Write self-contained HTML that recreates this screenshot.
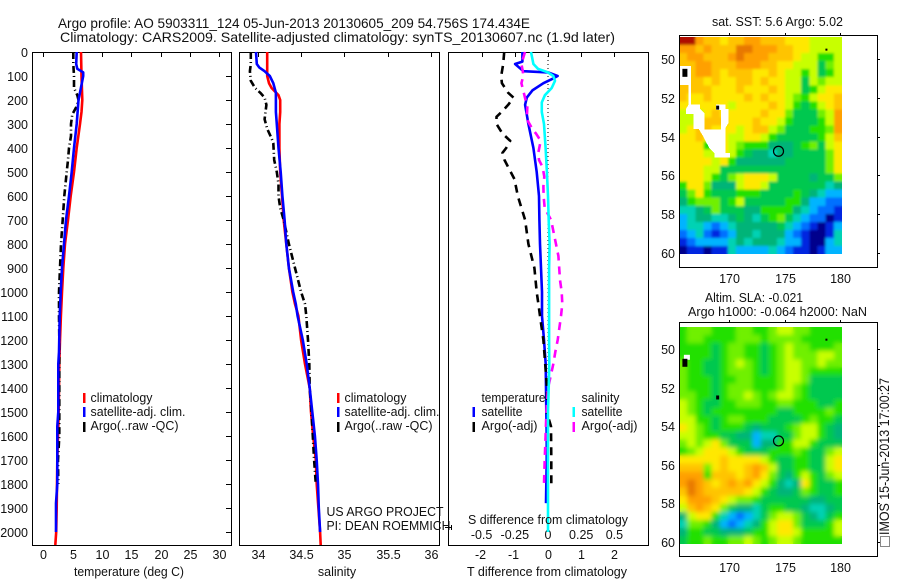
<!DOCTYPE html>
<html>
<head>
<meta charset="utf-8">
<title>Argo profile</title>
<style>
html,body{margin:0;padding:0;background:#fff;}
svg{display:block;}
text{font-family:"Liberation Sans",sans-serif;font-size:12.5px;fill:#111;}
.t{font-size:14px;}
</style>
</head>
<body>
<svg id="fig" width="900" height="580" viewBox="0 0 900 580" xmlns="http://www.w3.org/2000/svg">
<defs>
<filter id="soft1" x="-5%" y="-5%" width="110%" height="110%"><feGaussianBlur in="SourceGraphic" stdDeviation="1.3" result="b"/><feMerge><feMergeNode in="SourceGraphic"/><feMergeNode in="b"/></feMerge></filter>
<filter id="soft2" x="-5%" y="-5%" width="110%" height="110%"><feGaussianBlur in="SourceGraphic" stdDeviation="2.4" result="b"/><feMerge><feMergeNode in="SourceGraphic"/><feMergeNode in="b"/></feMerge></filter>
<clipPath id="clip1"><rect x="679" y="37" width="163" height="217"/></clipPath>
<clipPath id="clip2"><rect x="679" y="327" width="163" height="217"/></clipPath>
</defs>
<rect x="0" y="0" width="900" height="580" fill="#fff"/>
<g id="layer"></g>
<g id="labels">
<text class="t" x="58" y="28" textLength="472" lengthAdjust="spacingAndGlyphs">Argo profile: AO 5903311_124 05-Jun-2013 20130605_209 54.756S 174.434E</text>
<text class="t" x="60" y="42" textLength="555" lengthAdjust="spacingAndGlyphs">Climatology: CARS2009. Satellite-adjusted climatology: synTS_20130607.nc (1.9d later)</text>

<text x="129" y="576" text-anchor="middle" textLength="110" lengthAdjust="spacingAndGlyphs">temperature (deg C)</text>
<text x="337" y="576" text-anchor="middle">salinity</text>
<text x="547" y="576" text-anchor="middle" textLength="160" lengthAdjust="spacingAndGlyphs">T difference from climatology</text>
<text x="548" y="524" text-anchor="middle" textLength="160" lengthAdjust="spacingAndGlyphs">S difference from climatology</text>

<rect x="83" y="393" width="2.5" height="10" fill="#f00"/>
<rect x="83" y="407" width="2.5" height="10" fill="#00f"/>
<rect x="83" y="422" width="2.5" height="10" fill="#000"/>
<text x="90.5" y="402" textLength="62" lengthAdjust="spacingAndGlyphs">climatology</text>
<text x="90.5" y="416" textLength="95" lengthAdjust="spacingAndGlyphs">satellite-adj. clim.</text>
<text x="90.5" y="430" textLength="88" lengthAdjust="spacingAndGlyphs">Argo(..raw -QC)</text>

<rect x="337" y="393" width="2.5" height="10" fill="#f00"/>
<rect x="337" y="407" width="2.5" height="10" fill="#00f"/>
<rect x="337" y="422" width="2.5" height="10" fill="#000"/>
<text x="344.5" y="402" textLength="62" lengthAdjust="spacingAndGlyphs">climatology</text>
<text x="344.5" y="416" textLength="95" lengthAdjust="spacingAndGlyphs">satellite-adj. clim.</text>
<text x="344.5" y="430" textLength="88" lengthAdjust="spacingAndGlyphs">Argo(..raw -QC)</text>

<text x="481.5" y="402" textLength="64" lengthAdjust="spacingAndGlyphs">temperature</text>
<text x="581.5" y="402" textLength="38" lengthAdjust="spacingAndGlyphs">salinity</text>
<rect x="472.5" y="407" width="2.5" height="10" fill="#00f"/>
<rect x="472.5" y="422" width="2.5" height="10" fill="#000"/>
<rect x="572.5" y="407" width="2.5" height="10" fill="#0ff"/>
<rect x="572.5" y="422" width="2.5" height="10" fill="#f0f"/>
<text x="481.5" y="416" textLength="41" lengthAdjust="spacingAndGlyphs">satellite</text>
<text x="481.5" y="430" textLength="56" lengthAdjust="spacingAndGlyphs">Argo(-adj)</text>
<text x="581.5" y="416" textLength="41" lengthAdjust="spacingAndGlyphs">satellite</text>
<text x="581.5" y="430" textLength="56" lengthAdjust="spacingAndGlyphs">Argo(-adj)</text>

<text x="326.5" y="516" textLength="117" lengthAdjust="spacingAndGlyphs">US ARGO PROJECT</text>
<text x="326.5" y="530" textLength="124" lengthAdjust="spacingAndGlyphs">PI: DEAN ROEMMICH</text>

<text x="777.5" y="26" text-anchor="middle" textLength="131" lengthAdjust="spacingAndGlyphs">sat. SST: 5.6  Argo: 5.02</text>
<text x="754" y="302" text-anchor="middle" textLength="98" lengthAdjust="spacingAndGlyphs">Altim. SLA: -0.021</text>
<text x="777.5" y="316" text-anchor="middle" textLength="179" lengthAdjust="spacingAndGlyphs">Argo h1000: -0.064  h2000: NaN</text>

<text style="font-size:13.5px" transform="translate(889,535) rotate(-90)" textLength="157" lengthAdjust="spacingAndGlyphs">IMOS 15-Jun-2013 17:00:27</text>
<rect x="880.5" y="536.5" width="9" height="10" fill="none" stroke="#111" stroke-width="1" stroke-dasharray="1 1"/>
<path d="M445 527.5H451M451.5 525V530" stroke="#000" stroke-width="1" fill="none"/>
</g>
</svg>
<script>
// ---- axis tick values ----
var depthTicks = [0,100,200,300,400,500,600,700,800,900,1000,1100,1200,1300,1400,1500,1600,1700,1800,1900,2000];
var tempTicks = [0,5,10,15,20,25,30];
var salTicks = [34,34.5,35,35.5,36];
var salTickLabels = ['34','34.5','35','35.5','36'];
var tDiffTicks = [-2,-1,0,1,2];
var tDiffTickLabels = ['-2','-1','0','1','2'];
var sDiffTicks = [-0.5,-0.25,0,0.25,0.5];
var sDiffTickLabels = ['-0.5','-0.25','0','0.25','0.5'];
var lonTicks = [170,175,180];
var latTicks = [50,52,54,56,58,60];

// ---- temperature panel ----
var climTempDepth = [0,100,200,250,300,400,500,600,700,800,900,1000,1100,1200,1300,1500,1700,1900,2000,2054];
var climTemp = [6.42,6.5,6.65,6.5,6.25,5.69,5.23,4.67,4.2,3.7,3.4,3.19,3.0,2.85,2.73,2.62,2.39,2.28,2.2,2.05];
var satTempDepth = [0,50,70,85,100,150,200,300,400,500,600,700,800,900,1000,1100,1250,1300,1500,1560,1800,1880,2000];
var satTemp = [5.69,5.6,5.8,6.8,6.8,6.4,6.0,5.69,5.23,4.83,4.38,3.87,3.53,3.19,2.96,2.79,2.67,2.56,2.56,2.39,2.39,2.16,2.16];
var argoTempDepth = [0,50,100,150,180,200,230,260,300,350,400,450,500,600,700,800,900,1000,1100,1200,1500,1600,1700,1800];
var argoTemp = [5.11,5.11,5.23,5.23,5.8,6.0,5.6,4.94,4.72,4.72,4.38,4.2,3.98,3.58,3.3,3.02,2.85,2.67,2.67,2.73,2.73,2.73,2.5,2.56];

// ---- salinity panel ----
var climSalDepth = [0,100,130,150,180,200,250,300,400,500,600,700,800,900,1000,1050,1100,1200,1300,1400,1500,1600,1700,1800,1900,2000,2054];
var climSal = [34.11,34.11,34.13,34.16,34.24,34.26,34.26,34.25,34.25,34.26,34.28,34.30,34.33,34.36,34.40,34.43,34.47,34.50,34.545,34.6,34.615,34.64,34.67,34.68,34.70,34.72,34.727];
var satSalDepth = [0,50,65,80,100,130,170,200,250,300,400,500,600,700,800,900,1000,1050,1100,1200,1300,1400,1500,1600,1700,1800,1900,2000];
var satSal = [33.98,33.99,34.02,34.08,34.14,34.18,34.21,34.21,34.21,34.22,34.24,34.265,34.285,34.31,34.33,34.36,34.41,34.44,34.46,34.52,34.565,34.60,34.63,34.66,34.68,34.695,34.705,34.72];
var argoSalDepth = [0,50,80,120,150,170,190,220,280,320,360,380,450,500,550,600,650,700,800,900,1000,1050,1100,1200,1300,1400,1500,1600,1700,1800];
var argoSal = [33.92,33.92,33.91,33.92,33.97,34.03,34.08,34.10,34.08,34.11,34.16,34.18,34.19,34.22,34.24,34.24,34.26,34.30,34.36,34.43,34.50,34.545,34.56,34.58,34.595,34.6,34.62,34.635,34.65,34.67];

// ---- difference panel ----
var satTDiffDepth = [0,40,50,80,85,100,110,130,160,190,220,300,400,500,600,700,800,900,1000,1100,1200,1300,1400,1500,1600,1700,1800,1880];
var satTDiff = [-0.77,-0.77,-0.99,-0.74,0,0.29,0.16,-0.14,-0.47,-0.64,-0.69,-0.59,-0.44,-0.34,-0.27,-0.26,-0.24,-0.21,-0.18,-0.18,-0.12,-0.07,-0.06,-0.05,-0.04,-0.04,-0.05,-0.06];
var argoTDiffDepth = [0,50,100,130,170,190,220,250,270,300,340,370,400,420,450,480,530,600,700,800,900,1000,1050,1100,1200,1250,1400,1500,1560,1700,1800];
var argoTDiff = [-1.32,-1.35,-1.41,-1.39,-1.2,-1.04,-1.2,-1.4,-1.55,-1.55,-1.37,-1.14,-1.26,-1.37,-1.31,-1.2,-1.01,-0.91,-0.69,-0.59,-0.41,-0.34,-0.29,-0.24,-0.14,-0.11,-0.03,-0.04,0.09,0.1,0.1];
var satSDiffDepth = [0,50,70,85,100,120,150,180,210,250,300,400,500,600,700,800,900,1000,1100,1200,1300,1400,1500,1600,1800,2000];
var satSDiff = [-0.128,-0.11,-0.075,0,0.04,0.053,0.028,-0.023,-0.047,-0.047,-0.03,-0.018,-0.008,0,0.005,0.012,0.008,0.008,0.008,0.008,0.01,0.005,0,0,0,0];
var argoSDiffDepth = [0,50,80,100,130,180,230,280,320,340,370,420,450,480,520,560,600,650,700,780,850,950,1000,1050,1100,1200,1250,1300,1350,1400,1500,1600,1700,1800];
var argoSDiff = [-0.173,-0.2,-0.19,-0.186,-0.2,-0.178,-0.156,-0.16,-0.118,-0.09,-0.055,-0.073,-0.068,-0.04,-0.028,-0.035,-0.033,-0.025,0.023,0.053,0.078,0.09,0.103,0.108,0.098,0.073,0.055,0.04,0.02,0,-0.012,-0.018,-0.025,-0.03];

// ---- map colour ramp (index = anomaly level) ----
var rampColors = ['#00008c','#0028e0','#0070ff','#00b4ff','#00d2b4','#00b478','#00c850','#20e000','#70f000','#c8ff00','#ffe800','#ffc400','#ffa000','#e87800','#b01000'];

// ---- SST map levels, 20 columns x 27 rows, north to south ----
var sstLevels = [
[14,14,12,11,11,10,11,11,12,12,11,11,11,10,10,10,9,9,9,9],
[12,12,11,12,11,11,11,13,13,12,12,12,11,11,10,10,9,9,9,9],
[11,12,12,11,11,11,12,13,12,12,12,11,11,11,10,9,9,7,7,9],
[11,11,12,12,11,11,11,12,12,12,11,11,10,10,9,9,9,6,8,9],
[11,11,12,12,11,10,11,11,11,10,10,11,10,9,9,7,9,6,7,9],
[11,11,11,10,11,10,10,11,11,10,11,10,10,9,9,6,9,8,9,9],
[11,11,11,11,10,10,10,11,10,10,10,11,10,9,9,6,7,9,10,10],
[11,10,10,11,10,10,10,10,11,10,11,10,10,9,8,7,9,10,10,11],
[10,10,10,10,10,10,9,10,10,10,10,11,10,9,7,6,7,9,10,11],
[9,9,9,10,11,10,10,10,10,10,11,10,10,8,6,6,6,8,9,12],
[9,9,10,11,11,11,10,10,10,11,10,10,9,7,6,6,6,7,9,12],
[9,10,11,11,10,10,10,9,10,11,11,9,8,6,6,6,7,7,8,12],
[10,10,11,10,10,10,9,9,10,10,9,7,6,6,6,6,6,7,9,11],
[10,10,10,7,10,10,9,8,7,7,7,5,5,5,6,7,8,6,9,10],
[10,10,10,9,9,10,9,7,6,5,5,4,5,5,6,6,6,6,8,10],
[10,10,10,10,9,10,7,5,5,5,5,5,5,6,6,6,6,6,8,10],
[10,10,10,9,9,6,6,6,6,6,6,6,6,6,6,6,6,6,8,10],
[10,10,10,9,7,6,8,9,10,10,10,9,6,6,6,6,5,6,6,8],
[7,10,10,8,5,5,5,9,10,10,9,6,6,6,6,6,6,6,4,5],
[6,8,10,7,6,6,6,7,7,7,6,6,6,6,7,6,5,4,3,3],
[5,7,8,8,8,6,7,9,6,6,6,6,6,7,7,5,3,3,2,2],
[4,4,5,6,8,6,6,6,5,5,7,7,7,7,5,4,3,2,2,1],
[3,4,5,5,4,4,5,6,5,4,6,7,8,6,4,3,2,2,0,1],
[3,4,4,3,2,3,4,5,5,5,5,5,6,4,3,2,1,0,1,3],
[2,3,4,2,1,2,3,5,5,4,5,5,5,3,2,1,0,0,1,4],
[1,2,3,3,3,3,4,5,4,5,5,5,4,3,3,1,0,0,3,4],
[0,1,1,0,1,1,4,3,3,3,3,4,3,2,1,1,0,1,3,3]
];

// ---- SLA map levels, 20 columns x 27 rows, north to south ----
var slaLevels = [
[7,8,8,8,7,7,7,8,8,7,7,8,9,9,8,8,7,7,7,7],
[7,8,8,7,7,7,7,8,8,8,7,8,8,8,8,7,7,7,7,7],
[7,7,7,7,6,7,8,8,7,7,6,7,8,9,8,8,7,7,7,8],
[7,7,7,7,6,7,8,8,7,7,6,7,8,9,8,8,8,9,9,8],
[8,7,7,6,6,7,8,9,8,7,6,7,8,9,9,8,8,9,8,8],
[8,7,7,6,6,7,8,8,8,7,6,7,8,9,9,8,7,7,7,7],
[8,7,7,7,6,7,7,8,8,7,7,7,8,9,9,8,6,6,6,6],
[8,7,7,7,6,7,8,8,8,7,7,7,8,9,8,7,6,6,6,6],
[8,8,7,7,6,7,8,8,9,8,7,8,9,9,8,7,6,6,6,6],
[9,8,7,6,6,7,7,8,8,8,7,7,8,8,7,7,7,6,6,7],
[9,8,7,6,7,7,7,7,7,7,7,7,6,6,7,7,7,7,8,7],
[9,9,7,7,6,7,8,8,7,7,7,6,6,6,6,7,8,7,7,6],
[10,9,8,7,6,7,7,7,6,5,6,6,6,7,8,9,9,7,6,5],
[9,9,8,7,7,6,6,5,5,3,4,4,6,6,8,9,9,7,6,5],
[8,9,8,9,10,8,6,6,6,3,5,5,7,7,9,9,7,6,6,6],
[7,8,9,10,10,10,9,7,6,6,6,7,7,7,8,7,6,6,8,9],
[10,10,10,10,10,11,10,10,10,10,9,7,6,6,7,7,6,6,9,10],
[11,11,11,8,10,11,10,10,11,12,11,9,6,6,7,7,6,6,9,10],
[12,12,12,7,11,11,11,10,11,12,10,8,6,5,7,9,7,6,8,9],
[12,13,12,11,10,11,12,11,12,10,9,7,5,4,5,10,7,6,6,7],
[11,13,12,11,11,11,11,11,10,9,7,6,5,5,6,8,7,6,6,7],
[10,12,12,12,11,10,9,8,8,7,6,6,6,6,6,6,5,5,6,6],
[9,11,12,11,10,8,6,5,5,4,6,7,7,6,6,5,4,4,5,6],
[5,9,10,10,7,4,3,2,3,4,6,8,9,9,8,6,5,4,6,7],
[4,8,8,7,5,3,2,3,4,5,7,9,10,10,8,6,6,6,7,9],
[5,7,7,6,6,5,5,5,6,7,7,9,10,10,9,7,7,7,7,9],
[6,7,7,8,7,7,8,8,9,8,7,8,9,9,8,7,7,7,7,7]
];

// ---- land mask of SST map (degrees) ----
var landLon = [165.56,166.55,166.55,167.36,167.36,167.75,167.75,169.25,169.25,168.80,168.80,169.64,169.64,169.91,169.91,169.64,169.64,170.06,170.06,168.65,168.65,168.20,167.66,167.24,166.76,166.76,166.10,166.10,166.34,166.34,165.56];
var landLat = [50.35,50.35,52.33,52.33,52.57,52.79,53.62,53.62,52.62,52.62,52.33,52.33,52.57,52.57,53.31,53.57,54.86,54.86,55.09,55.09,54.86,54.60,54.0,53.60,53.60,52.83,52.83,52.57,52.33,51.33,51.33];

// ---- float position ----
var floatLon = [174.434];
var floatLat = [54.756];

// ---- island specks ----
var speckLon = [166.0,168.95,178.75];
var speckLat = [50.7,52.5,49.5];

var NS = 'http://www.w3.org/2000/svg';
var layer = document.getElementById('layer');

function el(tag, attrs, parent) {
  var e = document.createElementNS(NS, tag);
  for (var k in attrs) e.setAttribute(k, attrs[k]);
  (parent || layer).appendChild(e);
  return e;
}

// axis functions
var depthY = function (d) { return 52 + 0.24 * d; };
var tempX = function (t) { return 43.3 + 5.87 * t; };
var salX = function (s) { return 257.7 + 86.7 * (s - 34); };
var tDiffX = function (t) { return 548 + 33.2 * t; };
var sDiffX = function (s) { return 548 + 132.8 * s; };
var lonX = function (lon) { return 729.3 + 11.1 * (lon - 170); };
var latY1 = function (lat) { return 59.3 + 19.33 * (lat - 50); };
var latY2 = function (lat) { return 349.3 + 19.27 * (lat - 50); };

function frame(name, x0, x1, y0, y1) {
  var r = el('rect', {x: x0, y: y0, width: x1 - x0, height: y1 - y0, fill: 'none', stroke: '#000', 'stroke-width': 1, 'shape-rendering': 'crispEdges'});
  
  
}

function tickLine(name, x1, y1, x2, y2) {
  var l = el('line', {x1: x1, y1: y1, x2: x2, y2: y2, stroke: '#000', 'stroke-width': 1, 'shape-rendering': 'crispEdges'});
  
  
}

function label(name, x, y, str, anchor) {
  var t = el('text', {x: x, y: y, 'text-anchor': anchor || 'middle'});
  t.textContent = str;
  
  
}

function series(name, xs, depths, xFn, color, width, dash) {
  var pts = xs.map(function (v, i) { return xFn(v).toFixed(1) + ',' + depthY(depths[i]).toFixed(1); }).join(' ');
  var attrs = {points: pts, fill: 'none', stroke: color, 'stroke-width': width, 'stroke-linejoin': 'round'};
  if (dash) attrs['stroke-dasharray'] = dash;
  var p = el('polyline', attrs);
  
  
}

// ---- profile panel frames ----
frame('temperature-plot-frame', 32.5, 231.5, 52.5, 545.5);
frame('salinity-plot-frame', 239.5, 439.5, 52.5, 545.5);
frame('difference-plot-frame', 448.5, 648.5, 52.5, 545.5);

// depth axis
depthTicks.forEach(function (d) {
  var y = Math.round(depthY(d)) + 0.5;
  label('depth-tick-label', 28, y + 4.5, String(d), 'end');
  tickLine('depth-tick', 226, y, 231, y);
});

// x axes
tempTicks.forEach(function (t) {
  var x = Math.round(tempX(t)) + 0.5;
  tickLine('temperature-tick', x, 52, x, 57);
  label('temperature-tick-label', x, 559, String(t));
});
salTicks.forEach(function (s, i) {
  var x = Math.round(salX(s)) + 0.5;
  tickLine('salinity-tick', x, 52, x, 57);
  label('salinity-tick-label', x, 559, salTickLabels[i]);
});
tDiffTicks.forEach(function (t, i) {
  var x = Math.round(tDiffX(t)) + 0.5;
  tickLine('t-difference-tick', x, 52, x, 57);
  label('t-difference-tick-label', x - (t < 0 ? 2 : 0), 559, tDiffTickLabels[i]);
});
sDiffTicks.forEach(function (s, i) {
  label('s-difference-tick-label', sDiffX(s), 539, sDiffTickLabels[i]);
});

// zero line
var zero = el('line', {x1: tDiffX(0), y1: 52, x2: tDiffX(0), y2: 400, stroke: '#000', 'stroke-width': 1, 'stroke-dasharray': '1 3'});



// ---- series ----
var W = 2.6;
var DD = '7 3 1 3';
var DS = '8 6';
series('climatology-temperature-line', climTemp, climTempDepth, tempX, '#f00', W);
series('argo-temperature-line', argoTemp, argoTempDepth, tempX, '#000', W, DD);
series('satellite-temperature-line', satTemp, satTempDepth, tempX, '#00f', W);

series('climatology-salinity-line', climSal, climSalDepth, salX, '#f00', W);
series('argo-salinity-line', argoSal, argoSalDepth, salX, '#000', W, DD);
series('satellite-salinity-line', satSal, satSalDepth, salX, '#00f', W);

series('satellite-t-difference-line', satTDiff, satTDiffDepth, tDiffX, '#00f', W);
series('argo-t-difference-line', argoTDiff, argoTDiffDepth, tDiffX, '#000', W, DS);
series('argo-s-difference-line', argoSDiff, argoSDiffDepth, sDiffX, '#f0f', W, DS);
series('satellite-s-difference-line', satSDiff, satSDiffDepth, sDiffX, '#0ff', W);

// ---- maps ----
var mapLonW = 165.47, mapLonE = 180.15;

function heatmap(name, levels, yFn, latN, latS, clipId, filterId) {
  var clip = el('g', {'clip-path': 'url(#' + clipId + ')'});
  var g = el('g', {filter: 'url(#' + filterId + ')'}, clip);
  
  
  var nr = levels.length;
  levels.forEach(function (row, r) {
    var nc = row.length;
    row.forEach(function (v, c) {
      var x0 = lonX(mapLonW + (mapLonE - mapLonW) * c / nc);
      var x1 = lonX(mapLonW + (mapLonE - mapLonW) * (c + 1) / nc);
      var y0 = yFn(latN + (latS - latN) * r / nr);
      var y1 = yFn(latN + (latS - latN) * (r + 1) / nr);
      var cell = el('rect', {x: x0.toFixed(2), y: y0.toFixed(2), width: (x1 - x0 + 0.3).toFixed(2), height: (y1 - y0 + 0.3).toFixed(2), fill: rampColors[v], 'shape-rendering': 'crispEdges'}, g);
      
      
    });
  });
}

function mapFurniture(prefix, top, bottom, yFn) {
  frame(prefix + '-map-frame', 679.5, 877.5, top + 0.5, bottom + 0.5);
  lonTicks.forEach(function (lon) {
    var x = Math.round(lonX(lon)) + 0.5;
    tickLine(prefix + '-lon-tick', x, top - 2, x, top);
    label(prefix + '-lon-tick-label', x, bottom + 16, String(lon));
  });
  latTicks.forEach(function (lat) {
    var y = Math.round(yFn(lat)) + 0.5;
    tickLine(prefix + '-lat-tick', 877.5, y, 880, y);
    label(prefix + '-lat-tick-label', 675, y + 4.5, String(lat), 'end');
  });
  var ring = el('circle', {cx: lonX(floatLon[0]), cy: yFn(floatLat[0]), r: 5, fill: 'none', stroke: '#000', 'stroke-width': 1.2});
  
  
}

function specks(prefix, yFn, showWhite) {
  speckLon.forEach(function (lon, i) {
    var x = lonX(lon), y = yFn(speckLat[i]);
    var h = i === 0 ? 8 : (i === 1 ? 4 : 2);
    var w = i === 0 ? 5 : (i === 1 ? 3 : 2);
    if (!showWhite && i === 0) {
      var wh = el('rect', {x: x - 1, y: y - 8, width: 6, height: 5, fill: '#fff'});
      
      
    }
    var s = el('rect', {x: x - w / 2, y: y - h / 2, width: w, height: h, fill: '#000'});
    
    
  });
}

heatmap('sst-heatmap', sstLevels, latY1, 48.85, 60.07, 'clip1', 'soft1');
var land = el('polygon', {points: landLon.map(function (lon, i) { return lonX(lon).toFixed(1) + ',' + latY1(landLat[i]).toFixed(1); }).join(' '), fill: '#fff', 'shape-rendering': 'crispEdges'});


specks('sst', latY1, true);
mapFurniture('sst', 35, 267, latY1);

heatmap('sla-heatmap', slaLevels, latY2, 48.85, 60.1, 'clip2', 'soft2');
specks('sla', latY2, false);
mapFurniture('sla', 322, 556, latY2);
</script>
</body>
</html>
